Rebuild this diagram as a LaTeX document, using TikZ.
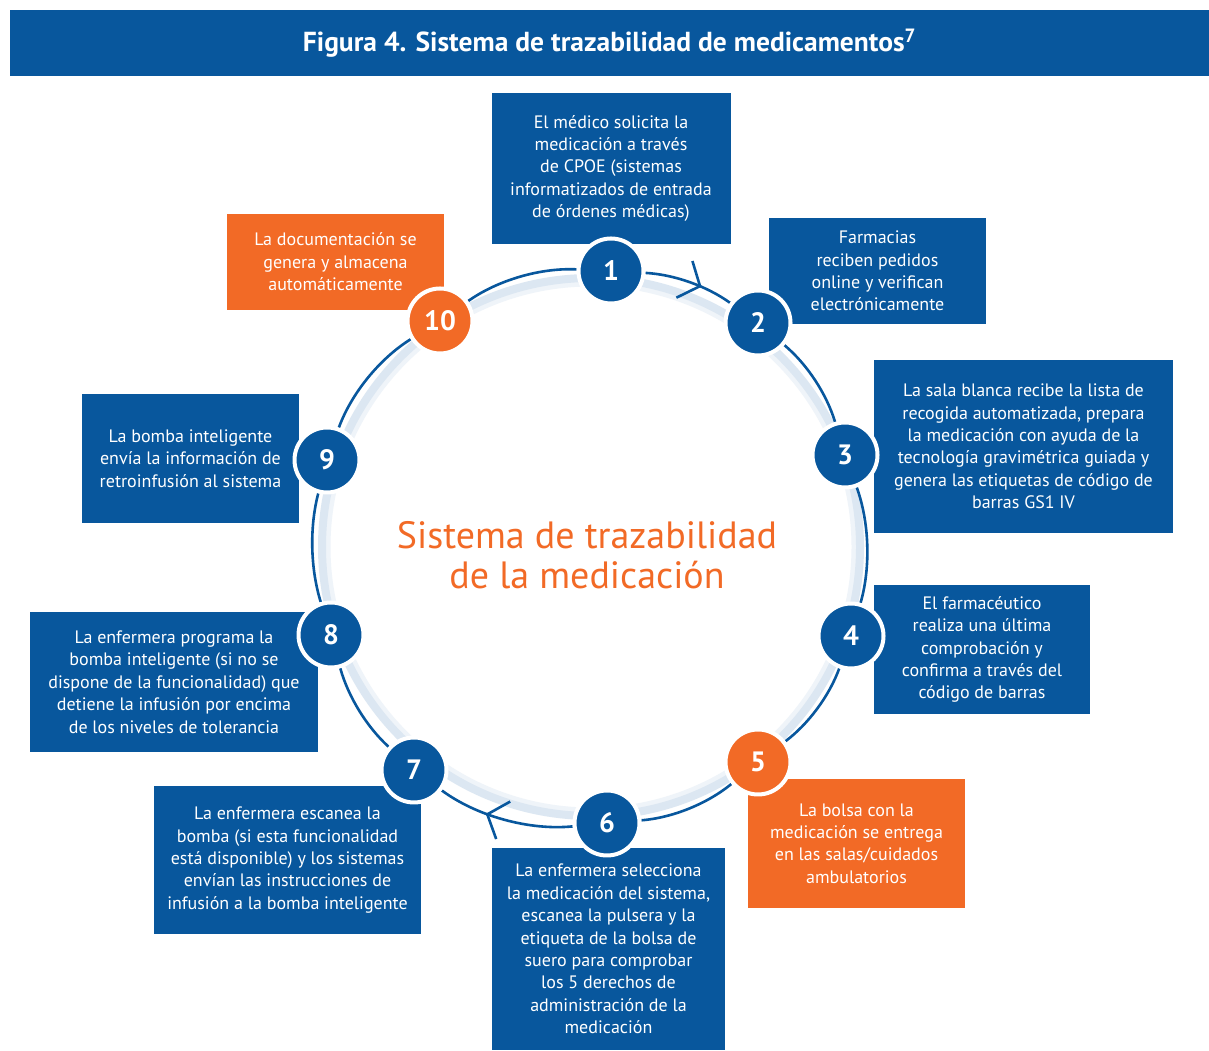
\documentclass[tikz,border=0pt]{standalone}
\usepackage{fontspec}
\setmainfont{PT Sans}
\usetikzlibrary{positioning}
\usetikzlibrary{arrows.meta,calc,backgrounds}
\usetikzlibrary{decorations.markings}
\definecolor{tzblue}{HTML}{08579D}
\definecolor{tzorange}{HTML}{F26A26}
\definecolor{tzglow}{HTML}{DCE7F2}
\definecolor{tzglowfar}{HTML}{EFF4F9}
\tikzstyle{stepcircle}=[circle,draw=white,line width=4pt,minimum size=65pt,inner sep=0pt,text=white,font=\fontsize{28}{28}\selectfont\bfseries]
\tikzstyle{infobox}=[rectangle,text=white,align=center,inner sep=0pt,font=\fontsize{18}{22.4}\selectfont]
\tikzstyle{ring} = [draw=tzblue,line width=2.6pt,looseness=0.82]
\tikzstyle{ringarrow} = [ring,postaction={decorate},decoration={markings,mark=at position 0.64 with {\arrow{Straight Barb[length=17pt,width=40pt,line width=2.6pt]}}}]

\begin{document}
\begin{tikzpicture}[x=1pt,y=1pt]

    \coordinate (ctr) at (591,504);

    \node[fill=tzblue,minimum width=1199pt,minimum height=66pt,text=white,font=\fontsize{27.5}{27.5}\selectfont\bfseries] (title) at (609.5,1008) {Figura 4. Sistema de trazabilidad de medicamentos\textsuperscript{7}};

    \node[text=tzorange,align=center,font=\fontsize{38}{40}\selectfont] (centre) at (587,496) {Sistema de trazabilidad\\de la medicación};

    \foreach \pos/\name/\label/\col in {{(611,780)/s1/1/tzblue}, {(758,728)/s2/2/tzblue}, {(845,596)/s3/3/tzblue}, {(851,415)/s4/4/tzblue}, {(758,289)/s5/5/tzorange}, {(607,228)/s6/6/tzblue}, {(414,281)/s7/7/tzblue}, {(331,416)/s8/8/tzblue}, {(327,591)/s9/9/tzblue}, {(440,730)/s10/10/tzorange}}
        \node[stepcircle,fill=\col] (\name) at \pos {\label};

    \begin{scope}[on background layer]
    \fill[white] (0,0) rectangle (1209,1051);
    \useasboundingbox (0,0) rectangle (1209,1051);
    % soft glow inside the ring
    \draw[tzglowfar,line width=7pt] (ctr) circle[radius=264];
    \draw[tzglow,line width=8pt] (ctr) circle[radius=269];

    \foreach \source/\dest/\bend/\kind in {s1/s2/16.3/ringarrow, s2/s3/16.6/ring, s3/s4/18/ring, s4/s5/16.5/ring, s5/s6/17.5/ring, s6/s7/21/ringarrow, s7/s8/16/ring, s8/s9/16/ring, s9/s10/19/ring, s10/s1/19/ring}
        \path[\kind] (\source) to[bend left=\bend] (\dest);

    \foreach \pos/\name/\w/\h/\col/\txt in {
        {(611,882.5)/b1/239/151/tzblue/{El médico solicita la\\medicación a través\\de CPOE (sistemas\\informatizados de entrada\\de órdenes médicas)}},
        {(877.5,780)/b2/217/106/tzblue/{Farmacias\\reciben pedidos\\online y verifican\\electrónicamente}},
        {(1023.5,604.5)/b3/299/173/tzblue/{La sala blanca recibe la lista de\\recogida automatizada, prepara\\la medicación con ayuda de la\\tecnología gravimétrica guiada y\\genera las etiquetas de código de\\barras GS1 IV}},
        {(982,401.5)/b4/216/129/tzblue/{El farmacéutico\\realiza una última\\comprobación y\\confirma a través del\\código de barras}},
        {(856.5,207.5)/b5/217/129/tzorange/{La bolsa con la\\medicación se entrega\\en las salas/cuidados\\ambulatorios}},
        {(608.5,102)/b6/233/202/tzblue/{La enfermera selecciona\\la medicación del sistema,\\escanea la pulsera y la\\etiqueta de la bolsa de\\suero para comprobar\\los 5 derechos de\\administración de la\\medicación}},
        {(287.5,191)/b7/267/148/tzblue/{La enfermera escanea la\\bomba (si esta funcionalidad\\está disponible) y los sistemas\\envían las instrucciones de\\infusión a la bomba inteligente}},
        {(174,369)/b8/288/140/tzblue/{La enfermera programa la\\bomba inteligente (si no se\\dispone de la funcionalidad) que\\detiene la infusión por encima\\de los niveles de tolerancia}},
        {(190.5,592.5)/b9/217/129/tzblue/{La bomba inteligente\\envía la información de\\retroinfusión al sistema}},
        {(335.5,789)/b10/217/96/tzorange/{La documentación se\\genera y almacena\\automáticamente}}}
        \node[infobox,fill=\col,minimum width=\w pt,minimum height=\h pt] (\name) at \pos {\txt};
    \end{scope}
\end{tikzpicture}
\end{document}
